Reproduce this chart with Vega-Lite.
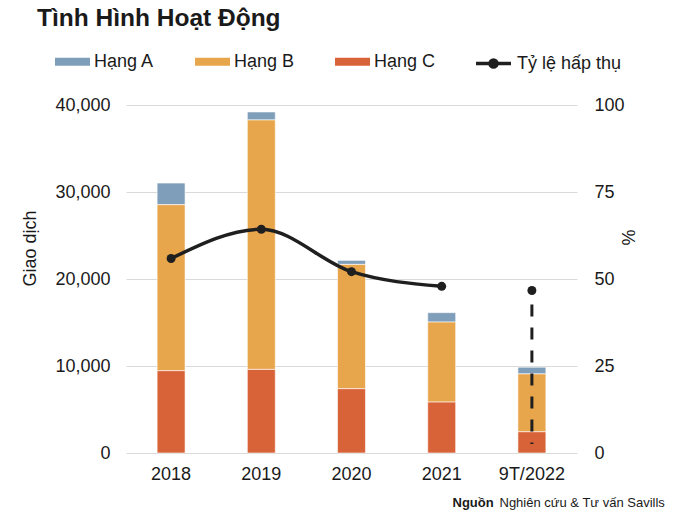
{
  "$schema": "https://vega.github.io/schema/vega-lite/v6.json",
  "autosize": {"type": "none"},
  "width": 451,
  "height": 348,
  "padding": {"left": 126, "top": 105, "right": 123, "bottom": 61},
  "background": "white",
  "title": {
    "text": "Tình Hình Hoạt Động",
    "anchor": "start",
    "frame": "group",
    "fontSize": 24.5,
    "fontWeight": "bold",
    "color": "#1a1a1a",
    "dx": -89,
    "offset": 13
  },
  "config": {
    "font": "Liberation Sans",
    "view": {"stroke": null},
    "axis": {"labelColor": "#1a1a1a", "titleColor": "#1a1a1a", "labelFont": "Liberation Sans", "titleFont": "Liberation Sans"},
    "legend": {"labelColor": "#1a1a1a", "labelFont": "Liberation Sans", "padding": 0}
  },
  "datasets": {
    "bars": [
      {"year": "2018", "class": "Hạng A", "value": 2490},
      {"year": "2018", "class": "Hạng B", "value": 19080},
      {"year": "2018", "class": "Hạng C", "value": 9460},
      {"year": "2019", "class": "Hạng A", "value": 920},
      {"year": "2019", "class": "Hạng B", "value": 28670},
      {"year": "2019", "class": "Hạng C", "value": 9610},
      {"year": "2020", "class": "Hạng A", "value": 460},
      {"year": "2020", "class": "Hạng B", "value": 14290},
      {"year": "2020", "class": "Hạng C", "value": 7390},
      {"year": "2021", "class": "Hạng A", "value": 1080},
      {"year": "2021", "class": "Hạng B", "value": 9200},
      {"year": "2021", "class": "Hạng C", "value": 5850},
      {"year": "9T/2022", "class": "Hạng A", "value": 770},
      {"year": "9T/2022", "class": "Hạng B", "value": 6650},
      {"year": "9T/2022", "class": "Hạng C", "value": 2440}
    ],
    "rate": [
      {"year": "2018", "rate": 55.9},
      {"year": "2019", "rate": 64.3},
      {"year": "2020", "rate": 52.1},
      {"year": "2021", "rate": 47.9},
      {"year": "9T/2022", "rate": 46.7}
    ],
    "rule": [
      {"year": "9T/2022", "top": 46.7, "bottom": 2.6}
    ]
  },
  "encoding": {
    "x": {
      "field": "year",
      "type": "nominal",
      "scale": {"domain": ["2018", "2019", "2020", "2021", "9T/2022"], "paddingInner": 0.69, "paddingOuter": 0.345},
      "axis": {
        "title": "Nguồn",
        "titleFontSize": 13,
        "titleFontWeight": "bold",
        "titleAnchor": "start",
        "titleAlign": "left",
        "titleBaseline": "alphabetic",
        "titleX": 326,
        "titleY": 53,
        "labelAngle": 0,
        "labelFontSize": 18,
        "labelPadding": 12,
        "domain": false,
        "ticks": false,
        "grid": false
      }
    }
  },
  "layer": [
    {
      "data": {"name": "bars"},
      "mark": {"type": "bar", "stroke": "#ffffff", "strokeWidth": 0.6},
      "encoding": {
        "y": {
          "field": "value",
          "type": "quantitative",
          "aggregate": "sum",
          "stack": "zero",
          "scale": {"domain": [0, 40000], "nice": false},
          "axis": {
            "orient": "left",
            "title": "Giao dịch",
            "titleFontSize": 18,
            "titleFontWeight": "normal",
            "titleAngle": -90,
            "titleAlign": "center",
            "titleBaseline": "alphabetic",
            "titleX": -91,
            "titleY": 143,
            "values": [0, 10000, 20000, 30000, 40000],
            "format": ",.0f",
            "labelFontSize": 18,
            "labelPadding": 16,
            "domain": false,
            "ticks": false,
            "grid": true,
            "gridColor": "#d9d9d9",
            "gridWidth": 1
          }
        },
        "color": {
          "field": "class",
          "type": "nominal",
          "scale": {"domain": ["Hạng A", "Hạng B", "Hạng C"], "range": ["#7f9eba", "#e8a64c", "#d96338"]},
          "legend": {
            "title": null,
            "orient": "none",
            "direction": "horizontal",
            "legendX": -71,
            "legendY": -61,
            "symbolType": "M-1,-0.23H1V0.23H-1Z",
            "symbolSize": 1225,
            "symbolStrokeWidth": 0,
            "labelFontSize": 18,
            "labelOffset": 4,
            "columnPadding": 40
          }
        },
        "order": {"field": "class", "sort": "descending"}
      }
    },
    {
      "data": {"name": "rate"},
      "encoding": {
        "y": {
          "field": "rate",
          "type": "quantitative",
          "scale": {"domain": [0, 100], "nice": false},
          "axis": {
            "orient": "right",
            "title": "%",
            "titleFontSize": 18,
            "titleFontWeight": "normal",
            "titleAngle": 90,
            "titleAlign": "center",
            "titleBaseline": "alphabetic",
            "titleX": 44,
            "titleY": 132,
            "values": [0, 25, 50, 75, 100],
            "labelFontSize": 18,
            "labelPadding": 17,
            "domain": false,
            "ticks": false,
            "grid": false
          }
        }
      },
      "layer": [
        {
          "transform": [{"filter": "datum.year != '9T/2022'"}],
          "mark": {"type": "line", "interpolate": "monotone", "strokeWidth": 3.5},
          "encoding": {
            "stroke": {
              "datum": "Tỷ lệ hấp thụ",
              "type": "nominal",
              "scale": {"range": ["#1f1f1f"]},
              "legend": {
                "title": null,
                "orient": "none",
                "legendX": 348,
                "legendY": -61,
                "symbolType": "M-1,0H1M0.2,0A0.2,0.2,0,1,1,-0.2,0A0.2,0.2,0,1,1,0.2,0",
                "symbolSize": 1225,
                "symbolStrokeWidth": 3.5,
                "symbolFillColor": "#1f1f1f",
                "symbolDash": [],
                "labelFontSize": 18,
                "labelOffset": 4,
                "encode": {"symbols": {"update": {"fill": {"value": "#1f1f1f"}, "stroke": {"value": "#1f1f1f"}, "strokeDash": {"value": []}}}}
              }
            }
          }
        },
        {
          "mark": {"type": "point", "filled": true, "size": 80, "color": "#1f1f1f", "opacity": 1}
        }
      ]
    },
    {
      "data": {"name": "rule"},
      "mark": {"type": "rule", "strokeWidth": 3, "strokeDash": [12, 11], "strokeDashOffset": 9, "color": "#1f1f1f"},
      "encoding": {
        "y": {
          "field": "top",
          "type": "quantitative",
          "scale": {"domain": [0, 100], "nice": false},
          "axis": {
            "orient": "left",
            "title": "Nghiên cứu & Tư vấn Savills",
            "titleFontSize": 13,
            "titleFontWeight": "normal",
            "titleAngle": 0,
            "titleAlign": "left",
            "titleBaseline": "alphabetic",
            "titleX": 373,
            "titleY": 401,
            "labels": false,
            "domain": false,
            "ticks": false,
            "grid": false
          }
        },
        "y2": {"field": "bottom"}
      }
    }
  ],
  "resolve": {"scale": {"y": "independent"}}
}
